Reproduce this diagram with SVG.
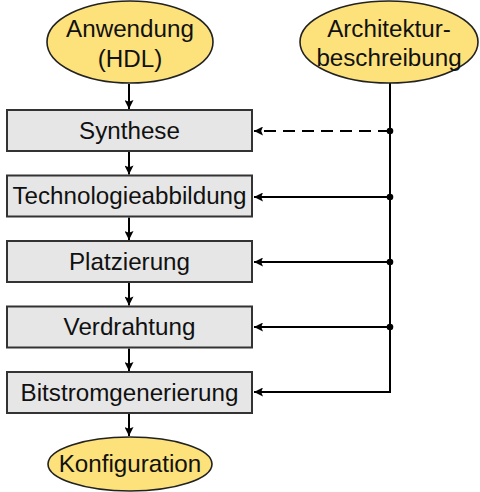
<svg xmlns="http://www.w3.org/2000/svg" width="480" height="492" viewBox="0 0 480 492">
  <style>
    .box { fill: #e6e6e6; stroke: #333; stroke-width: 2; }
    .oval { fill: #fde17b; stroke: #222; stroke-width: 1.6; }
    .lbl { font-family: "Liberation Sans", Arial, sans-serif; font-size: 24.2px; fill: #111; text-anchor: middle; }
    .wire { fill: none; stroke: #000; stroke-width: 2; }
    .dash { stroke-dasharray: 12 7; }
  </style>
  <defs>
    <marker id="arr" viewBox="0 0 10 10" refX="10" refY="5" markerWidth="5" markerHeight="4.5" orient="auto" markerUnits="strokeWidth">
      <path d="M0,0 L10,5 L0,10 L2,5 z" fill="#000"/>
    </marker>
  </defs>

  <g id="connectors">
    <!-- main flow -->
    <line class="wire" x1="129" y1="84" x2="129" y2="109" marker-end="url(#arr)"/>
    <line class="wire" x1="129" y1="152" x2="129" y2="174.5" marker-end="url(#arr)"/>
    <line class="wire" x1="129" y1="217.5" x2="129" y2="240" marker-end="url(#arr)"/>
    <line class="wire" x1="129" y1="283" x2="129" y2="305.5" marker-end="url(#arr)"/>
    <line class="wire" x1="129" y1="348.5" x2="129" y2="371" marker-end="url(#arr)"/>
    <line class="wire" x1="129" y1="414" x2="129" y2="436" marker-end="url(#arr)"/>
    <!-- architecture description feed -->
    <polyline class="wire" points="390,83 390,392 254,392" marker-end="url(#arr)"/>
    <line class="wire dash" x1="390" y1="131" x2="254" y2="131" marker-end="url(#arr)"/>
    <line class="wire" x1="390" y1="197" x2="254" y2="197" marker-end="url(#arr)"/>
    <line class="wire" x1="390" y1="262" x2="254" y2="262" marker-end="url(#arr)"/>
    <line class="wire" x1="390" y1="327" x2="254" y2="327" marker-end="url(#arr)"/>
    <circle cx="390" cy="131" r="3.3" fill="#000"/>
    <circle cx="390" cy="197" r="3.3" fill="#000"/>
    <circle cx="390" cy="262" r="3.3" fill="#000"/>
    <circle cx="390" cy="327" r="3.3" fill="#000"/>
  </g>

  <g id="anwendung">
    <ellipse class="oval" cx="130" cy="42" rx="83" ry="41"/>
    <text class="lbl" x="130" y="37">Anwendung</text>
    <text class="lbl" x="130" y="67">(HDL)</text>
  </g>

  <g id="architektur">
    <ellipse class="oval" cx="389" cy="42" rx="89" ry="41"/>
    <text class="lbl" x="389" y="37">Architektur-</text>
    <text class="lbl" x="389" y="66">beschreibung</text>
  </g>

  <g id="synthese">
    <rect class="box" x="7" y="110" width="245" height="41"/>
    <text class="lbl" x="129.5" y="138.5">Synthese</text>
  </g>

  <g id="technologieabbildung">
    <rect class="box" x="7" y="175.5" width="245" height="41"/>
    <text class="lbl" x="129.5" y="204">Technologieabbildung</text>
  </g>

  <g id="platzierung">
    <rect class="box" x="7" y="241" width="245" height="41"/>
    <text class="lbl" x="129.5" y="269.5">Platzierung</text>
  </g>

  <g id="verdrahtung">
    <rect class="box" x="7" y="306.5" width="245" height="41"/>
    <text class="lbl" x="129.5" y="335">Verdrahtung</text>
  </g>

  <g id="bitstromgenerierung">
    <rect class="box" x="7" y="372" width="245" height="41"/>
    <text class="lbl" x="129.5" y="400.5">Bitstromgenerierung</text>
  </g>

  <g id="konfiguration">
    <ellipse class="oval" cx="130" cy="464" rx="82" ry="27"/>
    <text class="lbl" x="130" y="472">Konfiguration</text>
  </g>
</svg>
